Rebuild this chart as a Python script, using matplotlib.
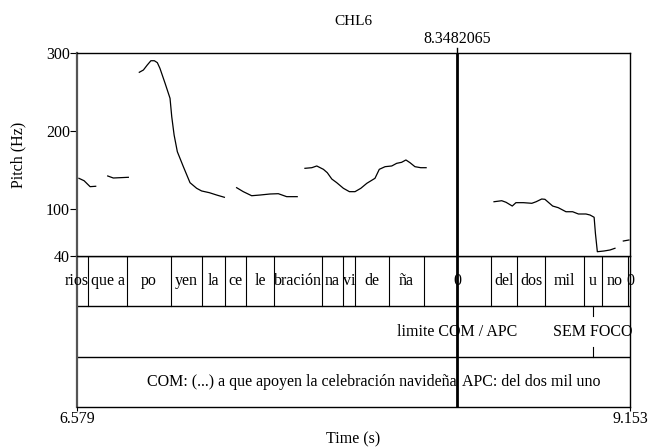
import numpy as np
import matplotlib
matplotlib.use("Agg")
import matplotlib.pyplot as plt

plt.rcParams['font.family'] = ['Liberation Serif', 'DejaVu Serif']
plt.rcParams['font.size'] = 11.5

# window and cursor
t_min, t_max = 6.579, 9.153
cursor = 8.3482065

# pitch contour pieces (time s, pitch Hz)
pitch_t = [
    [6.588, 6.612, 6.640, 6.666],
    [6.722, 6.748, 6.779, 6.818],
    [6.869, 6.888, 6.906, 6.923, 6.939, 6.953, 6.965, 6.989, 7.012, 7.020, 7.031,
     7.046, 7.074, 7.105, 7.136, 7.159, 7.195, 7.229, 7.265],
    [7.322, 7.353, 7.392, 7.431, 7.477, 7.516, 7.555, 7.604],
    [7.640, 7.672, 7.695, 7.726, 7.744, 7.765, 7.788, 7.819, 7.847, 7.873, 7.900,
     7.928, 7.966, 7.986, 8.013, 8.044, 8.067, 8.090, 8.110, 8.129, 8.152, 8.179, 8.204],
    [8.520, 8.556, 8.576, 8.605, 8.622, 8.657, 8.696, 8.716, 8.742, 8.757, 8.793,
     8.819, 8.855, 8.886, 8.913, 8.948, 8.967, 8.986, 8.992, 9.001, 9.032, 9.060, 9.083],
    [9.122, 9.148],
]
pitch_f = [
    [139.5, 136.4, 128.8, 129.3],
    [142.5, 139.9, 140.3, 140.8],
    [275.3, 278.2, 284.6, 290.1, 290.1, 287.6, 280.4, 261.2, 242.0, 218.4, 195.0,
     173.6, 154.4, 133.9, 126.7, 123.3, 121.1, 118.1, 115.2],
    [127.5, 122.4, 117.2, 118.1, 119.4, 119.8, 116.0, 116.0],
    [152.3, 153.1, 155.3, 151.0, 146.7, 138.6, 133.9, 126.7, 122.4, 122.4, 126.7,
     133.1, 139.5, 151.0, 154.4, 155.3, 158.7, 160.0, 163.0, 159.5, 154.4, 153.1, 153.1],
    [109.5, 110.8, 108.8, 104.0, 108.3, 108.3, 107.5, 109.5, 113.0, 112.6, 104.0,
     101.9, 96.7, 96.7, 93.8, 93.8, 92.5, 89.6, 69.1, 45.5, 46.4, 47.7, 49.9],
    [59.2, 60.5],
]

# tier 1: syllables
syl_bounds = [6.520, 6.632, 6.810, 7.015, 7.160, 7.269, 7.366, 7.496, 7.718,
              7.816, 7.873, 8.030, 8.194, 8.505, 8.629, 8.757, 8.939, 9.021, 9.146, 9.160]
syl_labels = ['rios', 'que a', 'po', 'yen', 'la', 'ce', 'le', 'bración', 'na', 'vi',
              'de', 'ña', '0', 'del', 'dos', 'mil', 'u', 'no', '0']

# tier 2: points
pt_times = [8.3482065, 8.980]
pt_labels = ['limite COM / APC', 'SEM FOCO']

# tier 3: units
unit_bounds = [6.200, 8.3482065, 9.300]
unit_labels = ['COM: (...) a que apoyen la celebración navideña', 'APC: del dos mil uno']

y_ticks = [40, 100, 200, 300]

W, H = 649, 448
fig = plt.figure(figsize=(W / 100, H / 100), dpi=100)

def frac(x0, y0, x1, y1):
    return [x0 / W, 1 - y1 / H, (x1 - x0) / W, (y1 - y0) / H]

ax = fig.add_axes(frac(77, 53, 630, 256))
axt = fig.add_axes(frac(77, 256, 630, 407))

for ts, fs in zip(pitch_t, pitch_f):
    ax.plot(ts, fs, color='black', lw=0.9)

ax.set_xlim(t_min, t_max)
ax.set_ylim(40, 300)
ax.set_yticks(y_ticks)
ax.set_yticklabels([str(v) for v in y_ticks])
ax.set_xticks([])
ax.tick_params(axis='y', length=5, width=0.8, pad=0)
ax.set_ylabel('Pitch (Hz)', labelpad=14)
ax.set_title('CHL6', fontsize=11, pad=20)
for s in ax.spines.values():
    s.set_linewidth(1.0)
ax.spines['left'].set_color('#555555')
ax.spines['left'].set_linewidth(1.6)
ax.spines['bottom'].set_visible(False)

# cursor
ax.axvline(cursor, color='black', lw=2)
ax.plot([cursor, cursor], [300, 307], color='black', lw=1, clip_on=False)
ax.text(cursor, 308, '8.3482065', ha='center', va='bottom')

# tiers
axt.set_xlim(t_min, t_max)
axt.set_ylim(0, 3)
axt.set_yticks([])
axt.set_xticks([t_min, t_max])
axt.set_xticklabels(['6.579', '9.153'])
axt.tick_params(axis='x', length=3, width=0.8, pad=0)
axt.set_xlabel('Time (s)', labelpad=3)
for s in axt.spines.values():
    s.set_linewidth(1.0)
axt.spines['left'].set_color('#555555')
axt.spines['left'].set_linewidth(1.6)
for yy in (1, 2, 3):
    axt.axhline(yy, color='black', lw=1.0)

# tier 1
for b in syl_bounds:
    if t_min < b < t_max:
        axt.plot([b, b], [2, 3], color='black', lw=0.8)
for a, b, lab in zip(syl_bounds[:-1], syl_bounds[1:], syl_labels):
    axt.text((a + b) / 2, 2.5, lab, ha='center', va='center', clip_on=False)

# tier 2
for tp, lab in zip(pt_times, pt_labels):
    axt.plot([tp, tp], [1.8, 2.0], color='black', lw=0.8)
    axt.plot([tp, tp], [1.0, 1.2], color='black', lw=0.8)
    axt.text(tp, 1.5, lab, ha='center', va='center')

# tier 3
axt.text(unit_bounds[1], 0.5, unit_labels[0], ha='right', va='center')
axt.text(unit_bounds[1] + 0.025, 0.5, unit_labels[1], ha='left', va='center')

axt.axvline(cursor, color='black', lw=2)

fig.savefig('out.png', dpi=100)
